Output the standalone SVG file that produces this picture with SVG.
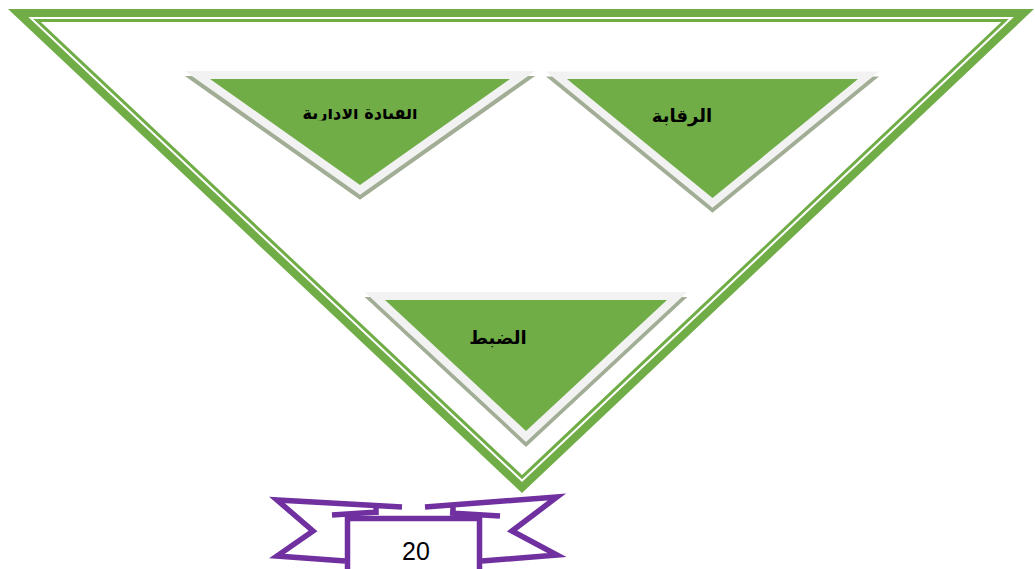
<svg xmlns="http://www.w3.org/2000/svg" xmlns:xlink="http://www.w3.org/1999/xlink" width="1035" height="569" viewBox="0 0 1035 569">
  <style>
    .band { fill: #70ad47; fill-rule: evenodd; }
    .tri { fill: #70ad47; stroke: none; }
    .rim { fill: #f2f2f2; stroke: #f2f2f2; stroke-linejoin: miter; }
    .shade { fill: #a2ad95; stroke: #a2ad95; stroke-linejoin: miter; }
    .label { font-family: "DejaVu Sans", sans-serif; font-weight: bold; font-size: 18px; fill: #000; text-anchor: middle; }
    .ribbon { fill: none; stroke: #7030a0; stroke-width: 5.5; stroke-linejoin: miter; }
    .num { font-family: "Liberation Sans", Arial, sans-serif; font-size: 25px; fill: #000; text-anchor: middle; }
  </style>
  <defs>
    <filter id="soft" x="-10%" y="-10%" width="120%" height="120%">
      <feGaussianBlur stdDeviation="0.7"/>
    </filter>
    <clipPath id="cut">
      <rect x="280" y="109" width="160" height="11.5"/>
    </clipPath>
    <polygon id="t1" points="210,79 510,79 360,185"/>
    <polygon id="t2" points="567,79 858,79 712.5,198"/>
    <polygon id="t3" points="385,300 667,300 526,431"/>
  </defs>

  <rect width="1035" height="569" fill="#ffffff"/>

  <!-- large inverted triangle: thick outer band plus thin inner line -->
  <g id="frame">
    <path class="band" d="M8,9 L1034,9 L522,493 Z M28.2,17 L1013.9,17 L522,482 Z"/>
    <path class="band" d="M33.2,19 L1008.8,19 L522,479.2 Z M40.8,22 L1001.3,22 L522,475 Z"/>
  </g>

  <!-- left triangle -->
  <g id="node-leadership">
    <use xlink:href="#t1" class="shade" stroke-width="16" transform="translate(0,5)" filter="url(#soft)"/>
    <use xlink:href="#t1" class="rim" stroke-width="16"/>
    <use xlink:href="#t1" class="tri"/>
    <text class="label" x="360" y="119" clip-path="url(#cut)" textLength="115" lengthAdjust="spacingAndGlyphs">القيادة الادارية</text>
  </g>

  <!-- right triangle -->
  <g id="node-control">
    <use xlink:href="#t2" class="shade" stroke-width="15" transform="translate(0,5)" filter="url(#soft)"/>
    <use xlink:href="#t2" class="rim" stroke-width="15"/>
    <use xlink:href="#t2" class="tri"/>
    <text class="label" x="682" y="122">الرقابة</text>
  </g>

  <!-- lower triangle -->
  <g id="node-regulation">
    <use xlink:href="#t3" class="shade" stroke-width="16" transform="translate(0,5)" filter="url(#soft)"/>
    <use xlink:href="#t3" class="rim" stroke-width="16"/>
    <use xlink:href="#t3" class="tri"/>
    <text class="label" x="498" y="344">الضبط</text>
  </g>

  <!-- page-number ribbon -->
  <g id="page-ribbon">
    <path class="ribbon" d="M402,507 L277,500 L313,531 L277,556 L345,561"/>
    <path class="ribbon" d="M425,507 L557,497 L512,531 L557,555 L482,561"/>
    <path class="ribbon" d="M332,515 L378,512 M376,506 V515"/>
    <path class="ribbon" d="M450,513 L500,516 M453,506 V515"/>
    <rect x="347.5" y="520.5" width="132" height="60" fill="#ffffff"/>
    <path class="ribbon" d="M347.5,572 V518.5 H479.5 V572"/>
    <text class="num" x="416" y="560">20</text>
  </g>
</svg>
